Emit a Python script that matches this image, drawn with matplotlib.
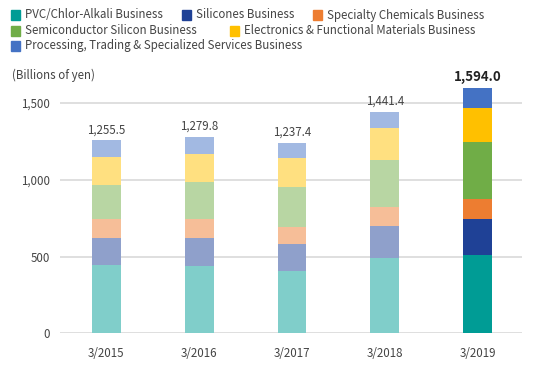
import matplotlib
matplotlib.use('Agg')
import matplotlib.pyplot as plt
from matplotlib.patches import Rectangle
import numpy as np

plt.rcParams['font.family'] = ['Noto Sans CJK JP', 'DejaVu Sans']

years = ['3/2015', '3/2016', '3/2017', '3/2018', '3/2019']
totals = [1255.5, 1279.8, 1237.4, 1441.4, 1594.0]
segments = ['PVC/Chlor-Alkali Business', 'Silicones Business', 'Specialty Chemicals Business',
            'Semiconductor Silicon Business', 'Electronics & Functional Materials Business',
            'Processing, Trading & Specialized Services Business']
pvc = [445, 439, 406, 491, 508]
silicones = [178, 184, 176, 210, 236]
specialty = [121, 121, 110, 121, 128]
semicon = [219, 240, 260, 305, 372]
electronics = [184, 182, 188, 208, 225]
processing = [108.5, 113.8, 97.4, 106.4, 125.0]
colors = ['#009C95', '#1F4196', '#ED7D31', '#70AD47', '#FFC000', '#4472C4']

data = np.array([pvc, silicones, specialty, semicon, electronics, processing])


def lighten(c, f=0.5):
    rgb = np.array(matplotlib.colors.to_rgb(c))
    return tuple(rgb * f + (1 - f))


fig = plt.figure(figsize=(5.4, 3.78), dpi=100)
ax = fig.add_axes([0.111, 0.118, 0.856, 0.671])

x = np.arange(len(years))
bottom = np.zeros(len(years))
for i in range(len(segments)):
    # older years drawn in faded colours, latest year in full colour
    cols = [lighten(colors[i]) if j < len(years) - 1 else colors[i] for j in range(len(years))]
    ax.bar(x, data[i], 0.31, bottom=bottom, color=cols, zorder=3)
    bottom += data[i]

for j, t in enumerate(totals):
    last = j == len(years) - 1
    ax.annotate(f'{t:,.1f}', (x[j], bottom[j]), xytext=(0, 3), textcoords='offset points',
                ha='center', va='bottom', fontsize=9.5 if last else 8.3,
                fontweight='bold' if last else 'normal', color='#222222' if last else '#444444')

ax.set_xlim(-0.5, 4.48)
ax.set_ylim(0, 1650)
ax.set_yticks([0, 500, 1000, 1500])
ax.set_yticklabels(['0', '500', '1,000', '1,500'])
ax.set_xticks(x)
ax.set_xticklabels(years)
ax.yaxis.grid(True, color='#D9D9D9', linewidth=1.2, zorder=0)
for s in ax.spines.values():
    s.set_visible(False)
ax.tick_params(axis='both', length=0, labelsize=8.3, labelcolor='#444444')
ax.tick_params(axis='y', pad=7)
ax.tick_params(axis='x', pad=10)

fig.text(0.022, 0.80, '(Billions of yen)', fontsize=8.3, color='#444444', va='center')

# legend, placed by hand in three rows
leg_pos = [(11, 15), (182, 15), (313, 15), (11, 31), (230, 31), (11, 46)]
for i, (px, py) in enumerate(leg_pos):
    fig.patches.append(Rectangle((px / 540, 1 - (py + 4.5) / 378), 9 / 540, 9 / 378,
                                 transform=fig.transFigure, color=colors[i]))
    fig.text((px + 14) / 540, 1 - py / 378, segments[i], fontsize=8.3, color='#444444', va='center')

plt.savefig('out.png', dpi=100)
